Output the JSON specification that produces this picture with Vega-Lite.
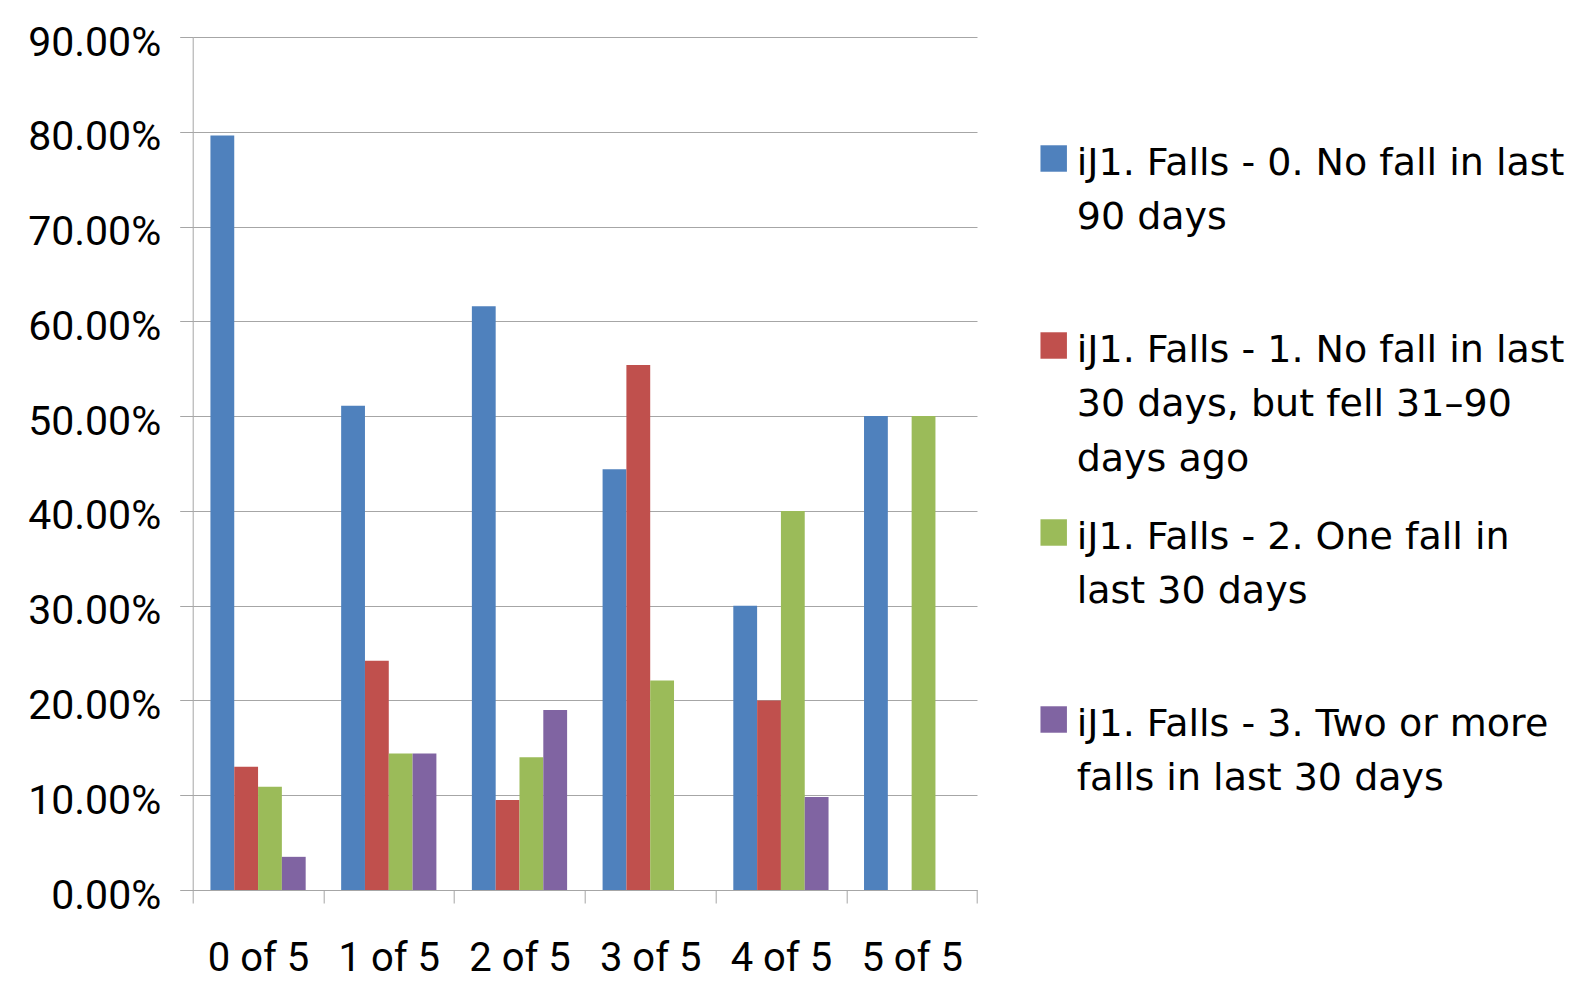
{
  "$schema": "https://vega.github.io/schema/vega-lite/v6.json",
  "autosize": {"type": "none"},
  "padding": {"left": 192.7, "top": 37, "right": 607, "bottom": 99},
  "width": 784.3,
  "height": 853,
  "background": "white",
  "data": {
    "values": [
      {"group": "0 of 5", "series": "iJ1. Falls - 0. No fall in last 90 days", "value": 0.796},
      {"group": "0 of 5", "series": "iJ1. Falls - 1. No fall in last 30 days, but fell 31–90 days ago", "value": 0.130},
      {"group": "0 of 5", "series": "iJ1. Falls - 2. One fall in last 30 days", "value": 0.109},
      {"group": "0 of 5", "series": "iJ1. Falls - 3. Two or more falls in last 30 days", "value": 0.035},
      {"group": "1 of 5", "series": "iJ1. Falls - 0. No fall in last 90 days", "value": 0.511},
      {"group": "1 of 5", "series": "iJ1. Falls - 1. No fall in last 30 days, but fell 31–90 days ago", "value": 0.242},
      {"group": "1 of 5", "series": "iJ1. Falls - 2. One fall in last 30 days", "value": 0.144},
      {"group": "1 of 5", "series": "iJ1. Falls - 3. Two or more falls in last 30 days", "value": 0.144},
      {"group": "2 of 5", "series": "iJ1. Falls - 0. No fall in last 90 days", "value": 0.616},
      {"group": "2 of 5", "series": "iJ1. Falls - 1. No fall in last 30 days, but fell 31–90 days ago", "value": 0.095},
      {"group": "2 of 5", "series": "iJ1. Falls - 2. One fall in last 30 days", "value": 0.140},
      {"group": "2 of 5", "series": "iJ1. Falls - 3. Two or more falls in last 30 days", "value": 0.190},
      {"group": "3 of 5", "series": "iJ1. Falls - 0. No fall in last 90 days", "value": 0.444},
      {"group": "3 of 5", "series": "iJ1. Falls - 1. No fall in last 30 days, but fell 31–90 days ago", "value": 0.554},
      {"group": "3 of 5", "series": "iJ1. Falls - 2. One fall in last 30 days", "value": 0.221},
      {"group": "4 of 5", "series": "iJ1. Falls - 0. No fall in last 90 days", "value": 0.300},
      {"group": "4 of 5", "series": "iJ1. Falls - 1. No fall in last 30 days, but fell 31–90 days ago", "value": 0.200},
      {"group": "4 of 5", "series": "iJ1. Falls - 2. One fall in last 30 days", "value": 0.400},
      {"group": "4 of 5", "series": "iJ1. Falls - 3. Two or more falls in last 30 days", "value": 0.098},
      {"group": "5 of 5", "series": "iJ1. Falls - 0. No fall in last 90 days", "value": 0.500},
      {"group": "5 of 5", "series": "iJ1. Falls - 2. One fall in last 30 days", "value": 0.500}
    ]
  },
  "mark": {"type": "bar"},
  "encoding": {
    "x": {
      "field": "group",
      "type": "nominal",
      "sort": ["0 of 5", "1 of 5", "2 of 5", "3 of 5", "4 of 5", "5 of 5"],
      "scale": {"paddingInner": 0, "paddingOuter": 0},
      "axis": {
        "title": null,
        "labelAngle": 0,
        "labelFont": "Roboto",
        "labelFontSize": 40,
        "labelColor": "#000000",
        "labelPadding": 35.5,
        "tickBand": "extent",
        "tickSize": 13,
        "tickColor": "#a6a6a6",
        "domainColor": "#a6a6a6",
        "domainWidth": 1,
        "grid": false
      }
    },
    "xOffset": {
      "field": "series",
      "type": "nominal",
      "scale": {
        "domain": [
          "iJ1. Falls - 0. No fall in last 90 days",
          "iJ1. Falls - 1. No fall in last 30 days, but fell 31–90 days ago",
          "iJ1. Falls - 2. One fall in last 30 days",
          "iJ1. Falls - 3. Two or more falls in last 30 days"
        ],
        "paddingInner": 0,
        "paddingOuter": 0.745
      }
    },
    "y": {
      "field": "value",
      "type": "quantitative",
      "scale": {"domain": [0, 0.9], "nice": false, "zero": true},
      "axis": {
        "title": null,
        "format": ".2%",
        "values": [0, 0.1, 0.2, 0.3, 0.4, 0.5, 0.6, 0.7, 0.8, 0.9],
        "labelFont": "Roboto",
        "labelFontSize": 41,
        "labelColor": "#000000",
        "labelPadding": 19,
        "labelBaseline": "middle",
        "labelOffset": 6,
        "tickSize": 13,
        "tickColor": "#a6a6a6",
        "domainColor": "#a6a6a6",
        "grid": true,
        "gridColor": "#a6a6a6",
        "gridWidth": 1
      }
    },
    "color": {
      "field": "series",
      "type": "nominal",
      "scale": {
        "domain": [
          "iJ1. Falls - 0. No fall in last 90 days",
          "iJ1. Falls - 1. No fall in last 30 days, but fell 31–90 days ago",
          "iJ1. Falls - 2. One fall in last 30 days",
          "iJ1. Falls - 3. Two or more falls in last 30 days"
        ],
        "range": ["#4F81BD", "#C0504D", "#9BBB59", "#8064A2"]
      },
      "legend": {
        "title": null,
        "orient": "none",
        "legendX": 842,
        "legendY": 102.5,
        "padding": 0,
        "symbolType": "square",
        "symbolSize": 700,
        "symbolStrokeWidth": 0,
        "labelFont": "DejaVu Sans",
        "labelFontSize": 38,
        "labelColor": "#000000",
        "labelLimit": 800,
        "labelOffset": 4,
        "labelBaseline": "top",
        "rowPadding": 35,
        "labelExpr": "datum.label == 'iJ1. Falls - 0. No fall in last 90 days' ? ['iJ1. Falls - 0. No fall in last', '90 days', ''] : datum.label == 'iJ1. Falls - 2. One fall in last 30 days' ? ['iJ1. Falls - 2. One fall in', 'last 30 days', ''] : datum.label == 'iJ1. Falls - 3. Two or more falls in last 30 days' ? ['iJ1. Falls - 3. Two or more', 'falls in last 30 days', ''] : ['iJ1. Falls - 1. No fall in last', '30 days, but fell 31–90', 'days ago']",
        "encode": {
          "labels": {"update": {"dy": {"value": -14}, "lineHeight": {"value": 54.5}}}
        }
      }
    }
  },
  "config": {"view": {"stroke": null}}
}
